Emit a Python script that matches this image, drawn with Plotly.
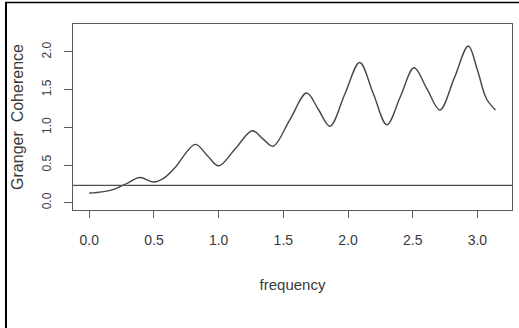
import plotly.graph_objects as go

# Granger coherence spectrum sampled over frequency (radians, 0..pi)
frequency = [0.00, 0.10, 0.20, 0.30, 0.39, 0.50, 0.58, 0.66, 0.82, 0.91, 1.00,
             1.13, 1.26, 1.34, 1.42, 1.55, 1.68, 1.77, 1.86, 1.975, 2.09,
             2.195, 2.30, 2.405, 2.51, 2.61, 2.71, 2.82, 2.93, 3.00, 3.07, 3.14]
coherence = [0.13, 0.145, 0.185, 0.265, 0.335, 0.275, 0.33, 0.46, 0.775, 0.63, 0.49,
             0.72, 0.955, 0.85, 0.75, 1.10, 1.455, 1.24, 1.015, 1.44, 1.86,
             1.45, 1.035, 1.41, 1.79, 1.51, 1.23, 1.65, 2.08, 1.76, 1.38, 1.23]
threshold = 0.23

x_ticks = [0.0, 0.5, 1.0, 1.5, 2.0, 2.5, 3.0]
y_ticks = [0.0, 0.5, 1.0, 1.5, 2.0]

W, H = 519, 328
ML, MR, MT, MB = 73, 7, 24, 118
PW, PH = W - ML - MR, H - MT - MB

def px_to_paper_x(px):
    return (px - ML) / PW

def px_to_paper_y(py):
    return (H - MB - py) / PH

AXIS = "#5a5a5a"
TEXT = "#3a3a3a"
SANS = "Liberation Sans, Arial, sans-serif"

fig = go.Figure()
fig.add_trace(go.Scatter(
    x=frequency, y=coherence, mode="lines",
    line=dict(color="#454545", width=1.4, shape="spline", smoothing=1.0),
    hoverinfo="skip", showlegend=False,
))

# significance threshold across the whole panel
fig.add_shape(type="line", xref="paper", yref="y", x0=0, x1=1,
              y0=threshold, y1=threshold,
              line=dict(color="#505050", width=1.2))

# outer black frame (left and top edges)
fig.add_shape(type="line", xref="paper", yref="paper",
              x0=px_to_paper_x(6), x1=px_to_paper_x(6),
              y0=px_to_paper_y(2), y1=px_to_paper_y(H + 2),
              line=dict(color="black", width=2))
fig.add_shape(type="line", xref="paper", yref="paper",
              x0=px_to_paper_x(5), x1=px_to_paper_x(W + 2),
              y0=px_to_paper_y(2.5), y1=px_to_paper_y(2.5),
              line=dict(color="black", width=1.5))

fig.update_layout(
    width=W, height=H,
    margin=dict(l=ML, r=MR, t=MT, b=MB),
    paper_bgcolor="white", plot_bgcolor="white",
    showlegend=False,
)
fig.update_xaxes(
    range=[-0.1257, 3.2673], tickvals=x_ticks, tickformat=".1f",
    showgrid=False, zeroline=False,
    showline=True, mirror=True, linecolor=AXIS, linewidth=1.2,
    ticks="outside", ticklen=7, tickcolor=AXIS, tickwidth=1.2,
    tickfont=dict(family=SANS, size=14, color=TEXT),
    ticklabelstandoff=10,
    title=dict(text="frequency", font=dict(family=SANS, size=15, color=TEXT),
               standoff=32),
)
fig.update_yaxes(
    range=[-0.096, 2.371], tickvals=y_ticks, tickformat=".1f",
    showgrid=False, zeroline=False,
    showline=True, mirror=True, linecolor=AXIS, linewidth=1.2,
    ticks="outside", ticklen=8, tickcolor=AXIS, tickwidth=1.2,
    tickangle=-90,
    tickfont=dict(family=SANS, size=12, color=TEXT),
    ticklabelstandoff=8,
    title=dict(text="Granger  Coherence", font=dict(family=SANS, size=16, color=TEXT),
               standoff=12),
)

fig.write_html("out.html")
